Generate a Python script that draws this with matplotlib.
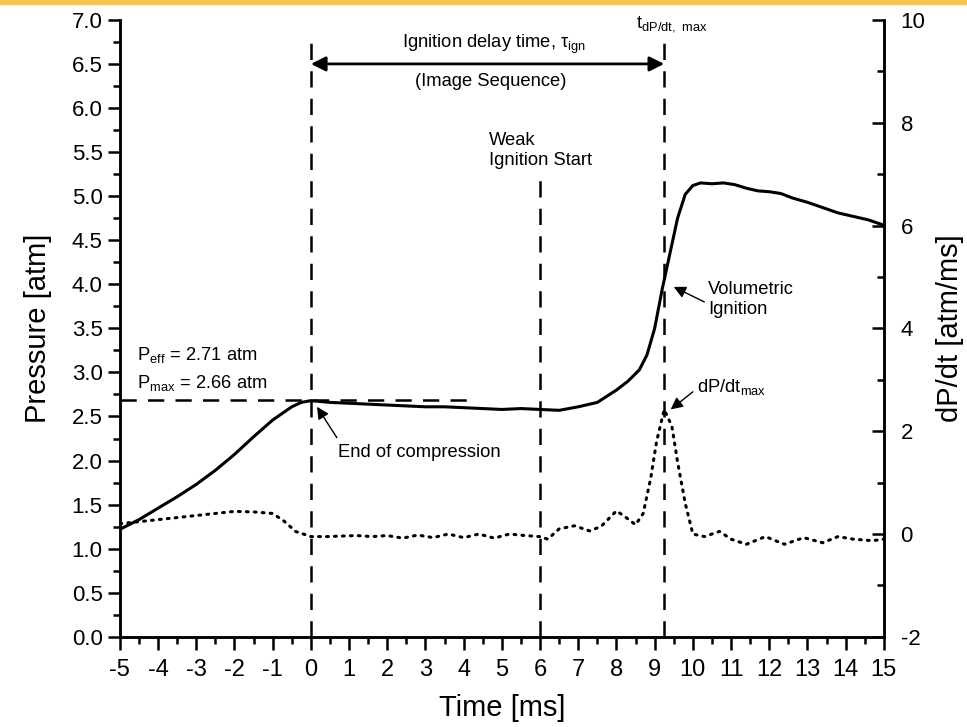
import numpy as np
import matplotlib
matplotlib.use("Agg")
import matplotlib.pyplot as plt
from matplotlib.patches import Rectangle
from matplotlib.ticker import MultipleLocator

plt.rcParams['font.family'] = ['Liberation Sans', 'DejaVu Sans']
plt.rcParams['mathtext.default'] = 'regular'
plt.rcParams['axes.unicode_minus'] = False

# Pressure trace [atm] vs time [ms]
t_p = [-5, -4.5, -4, -3.5, -3, -2.5, -2, -1.5, -1, -0.5, -0.25, 0, 0.5, 1, 1.5,
       2, 2.5, 3, 3.5, 4, 4.5, 5, 5.5, 6, 6.5, 7, 7.5, 8, 8.3, 8.6, 8.8, 9.0,
       9.2, 9.4, 9.6, 9.8, 10, 10.2, 10.5, 10.8, 11.1, 11.4, 11.7, 12, 12.3,
       12.6, 13, 13.4, 13.8, 14.2, 14.6, 15]
pressure = [1.22, 1.33, 1.46, 1.59, 1.73, 1.89, 2.07, 2.27, 2.46, 2.61, 2.66,
            2.68, 2.66, 2.65, 2.64, 2.63, 2.62, 2.61, 2.61, 2.60, 2.59, 2.58,
            2.59, 2.58, 2.57, 2.61, 2.66, 2.80, 2.90, 3.03, 3.20, 3.50, 3.95,
            4.35, 4.75, 5.02, 5.12, 5.15, 5.14, 5.15, 5.13, 5.09, 5.06, 5.05,
            5.03, 4.98, 4.93, 4.87, 4.81, 4.77, 4.73, 4.67]

# Pressure derivative [atm/ms]
t_d = [-5, -4.5, -4, -3.5, -3, -2.5, -2, -1.5, -1, -0.7, -0.4, 0, 0.4, 0.8,
       1.2, 1.6, 2, 2.4, 2.8, 3.2, 3.6, 4, 4.4, 4.8, 5.2, 5.6, 6.0, 6.2, 6.5,
       6.9, 7.3, 7.6, 8.0, 8.2, 8.5, 8.7, 8.9, 9.05, 9.25, 9.45, 9.6, 9.8,
       10.0, 10.3, 10.7, 11.0, 11.4, 11.9, 12.4, 12.9, 13.4, 13.8, 14.2, 14.7, 15]
dpdt = [0.2, 0.24, 0.28, 0.32, 0.36, 0.4, 0.44, 0.43, 0.4, 0.25, 0.05, -0.05,
        -0.05, -0.04, -0.03, -0.05, -0.03, -0.08, -0.02, -0.07, 0.0, -0.07,
        0.0, -0.08, 0.0, -0.03, -0.05, -0.1, 0.1, 0.16, 0.06, 0.15, 0.45, 0.35,
        0.18, 0.4, 1.1, 1.8, 2.42, 2.1, 1.4, 0.6, 0.0, -0.05, 0.05, -0.1, -0.2,
        -0.05, -0.2, -0.07, -0.17, -0.05, -0.1, -0.13, -0.1]

# marker times [ms]
t_eoc = 0.0
t_weak = 6.0
t_max = 9.25
p_eff = 2.69

fig = plt.figure(figsize=(9.67, 7.27), dpi=100)
ax = fig.add_axes([0.124, 0.124, 0.79, 0.8487])
ax2 = ax.twinx()

ax.plot(t_p, pressure, color='black', lw=2.2, solid_capstyle='round')
ax2.plot(t_d, dpdt, color='black', lw=2.2, ls=(0, (0.6, 2.0)), dash_capstyle='round')

dash = (0, (6.5, 4.5))
ax.plot([t_eoc, t_eoc], [0, 6.78], color='black', lw=1.8, ls=dash)
ax.plot([t_max, t_max], [0, 6.78], color='black', lw=1.8, ls=dash)
ax.plot([t_weak, t_weak], [0, 5.27], color='black', lw=1.8, ls=dash)
ax.plot([-5, 4.25], [p_eff, p_eff], color='black', lw=1.8, ls=dash)

ax.annotate('', xy=(t_eoc, 6.5), xytext=(t_max, 6.5),
            arrowprops=dict(arrowstyle='<|-|>', color='black', lw=2,
                            mutation_scale=22, shrinkA=0, shrinkB=0))

fs = 13.2
ax.text(4.8, 6.72, r'Ignition delay time, $\tau_{ign}$', ha='center', va='center', fontsize=fs)
ax.text(4.7, 6.3, '(Image Sequence)', ha='center', va='center', fontsize=fs)
ax.text(8.5, 6.95, r't$_{dP/dt,\ max}$', ha='left', va='center', fontsize=fs)
ax.text(-4.55, 3.2, r'P$_{eff}$ = 2.71 atm', ha='left', va='center', fontsize=fs)
ax.text(-4.55, 2.88, r'P$_{max}$ = 2.66 atm', ha='left', va='center', fontsize=fs)
ax.text(4.65, 5.52, 'Weak\nIgnition Start', ha='left', va='center', fontsize=fs, linespacing=1.2)
ax.text(10.4, 3.83, 'Volumetric\nIgnition', ha='left', va='center', fontsize=fs, linespacing=1.2)
ax.text(0.72, 2.09, 'End of compression', ha='left', va='center', fontsize=fs)
ax.text(10.1, 2.84, r'dP/dt$_{max}$', ha='left', va='center', fontsize=fs)

arrow = dict(arrowstyle='-|>', color='black', lw=1, mutation_scale=18, shrinkA=0, shrinkB=0)
ax.annotate('', xy=(0.16, 2.61), xytext=(0.68, 2.26), arrowprops=arrow)
ax.annotate('', xy=(9.5, 3.97), xytext=(10.3, 3.8), arrowprops=arrow)
ax.annotate('', xy=(9.42, 2.58), xytext=(10.0, 2.78), arrowprops=arrow)

ax.set_xlim(-5, 15)
ax.set_ylim(0, 7)
ax2.set_ylim(-2, 10)

ax.xaxis.set_major_locator(MultipleLocator(1))
ax.xaxis.set_minor_locator(MultipleLocator(0.5))
ax.yaxis.set_major_locator(MultipleLocator(0.5))
ax.yaxis.set_minor_locator(MultipleLocator(0.25))
ax2.yaxis.set_major_locator(MultipleLocator(2))
ax2.yaxis.set_minor_locator(MultipleLocator(1))
ax.yaxis.set_major_formatter(plt.FormatStrFormatter('%.1f'))

for a in (ax, ax2):
    a.spines['top'].set_visible(False)
    for s in a.spines.values():
        s.set_linewidth(1.8)

ax.tick_params(axis='both', which='major', direction='out', length=9, width=1.8, labelsize=16)
ax.tick_params(axis='both', which='minor', direction='out', length=5, width=1.8)
ax.tick_params(axis='x', which='major', labelsize=17, pad=7)
ax2.tick_params(axis='y', which='major', direction='in', length=9, width=1.8, labelsize=16, pad=12)
ax2.tick_params(axis='y', which='minor', direction='in', length=5, width=1.8)

ax.set_xlabel('Time [ms]', fontsize=21, labelpad=9)
ax.set_ylabel('Pressure [atm]', fontsize=21, labelpad=14)
ax2.set_ylabel('dP/dt [atm/ms]', fontsize=21, labelpad=8)

fig.patches.append(Rectangle((0, 1 - 4 / 727), 1, 4 / 727, transform=fig.transFigure,
                             color='#f4c54e', zorder=10))

fig.savefig('out.png', dpi=100)
